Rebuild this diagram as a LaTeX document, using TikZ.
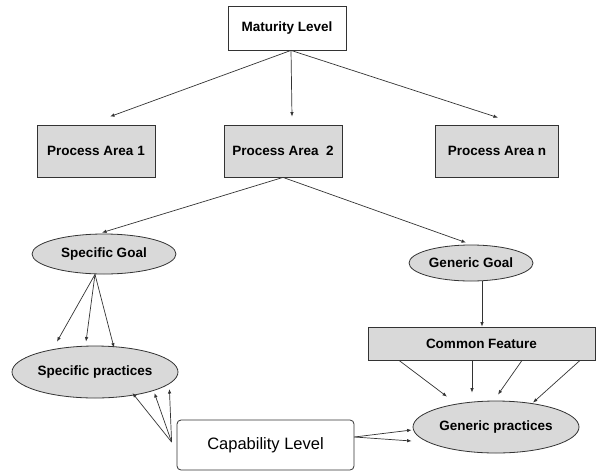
\documentclass[tikz,border=0pt]{standalone}
\usepackage{fontspec}
\setmainfont{Liberation Sans}
\usetikzlibrary{arrows.meta,shapes.geometric,calc}
\definecolor{boxgray}{HTML}{D9D9D9}
\definecolor{linegray}{HTML}{333333}
\tikzset{
  lbl/.style={font=\fontsize{13.5}{15}\selectfont\bfseries, text=black},
  plainbox/.style={draw=linegray, line width=0.8pt, fill=white, inner sep=0pt},
  graybox/.style={draw=linegray, line width=0.8pt, fill=boxgray, inner sep=0pt},
  grayell/.style={ellipse, draw=linegray, line width=0.8pt, fill=boxgray, inner sep=0pt},
  arr/.style={draw=linegray, line width=0.7pt, -{Latex[length=4.5pt,width=3.5pt]}},
}
\begin{document}
\begin{tikzpicture}[x=1pt,y=-1pt]
\useasboundingbox (0,0) rectangle (601,471);
\node[plainbox, lbl, minimum width=118pt, minimum height=44pt] (ML) at (287,28) {Maturity Level};
\node[graybox, lbl, minimum width=118pt, minimum height=52pt] (PA1) at (96,151) {Process Area 1};
\node[graybox, lbl, minimum width=118pt, minimum height=52pt] (PA2) at (283,151) {Process Area~~2};
\node[graybox, lbl, minimum width=123pt, minimum height=52pt] (PAn) at (497,151) {Process Area n};
\node[grayell, lbl, minimum width=144pt, minimum height=40pt] (SG) at (104,254) {Specific Goal};
\node[grayell, lbl, minimum width=166pt, minimum height=52pt] (SP) at (95,372) {Specific practices};
\node[grayell, lbl, minimum width=124pt, minimum height=36pt] (GG) at (471,263) {Generic Goal};
\node[graybox, lbl, minimum width=227pt, minimum height=33pt] (CF) at (481.5,343.5) {Common Feature};
\node[grayell, lbl, minimum width=166pt, minimum height=52pt] (GP) at (496,427) {Generic practices};
\node[plainbox, rounded corners=4pt, font=\fontsize{16.5}{18}\selectfont, minimum width=177pt, minimum height=50pt] (CL) at (265.5,445) {Capability Level};

% Maturity level to process areas
\draw[arr] ([xshift=4pt]ML.south) -- ([xshift=14pt,yshift=8pt]PA1.north);
\draw[arr] ([xshift=4pt]ML.south) -- ([xshift=9pt,yshift=8pt]PA2.north);
\draw[arr] ([xshift=4pt]ML.south) -- ([xshift=1pt,yshift=7pt]PAn.north);
% Process area 2 to goals
\draw[arr] (PA2.south) -- ([xshift=-2pt,yshift=1pt]SG.north);
\draw[arr] (PA2.south) -- ([xshift=-5pt,yshift=2pt]GG.north);
% Specific goal to specific practices
\draw[arr] ([xshift=-9pt]SG.south) -- ([xshift=-38pt,yshift=4pt]SP.north);
\draw[arr] ([xshift=-9pt]SG.south) -- ([xshift=-9pt,yshift=4pt]SP.north);
\draw[arr] ([xshift=-9pt]SG.south) -- ([xshift=19pt,yshift=-2pt]SP.north);
% Generic goal to common feature
\draw[arr] ([xshift=11pt]GG.south) -- ([xshift=0.5pt]CF.north);
% Common feature to generic practices
\draw[arr] ([xshift=-82.5pt]CF.south) -- ([xshift=-49pt,yshift=4pt]GP.north);
\draw[arr] ([xshift=-9.5pt]CF.south) -- ([xshift=-24pt,yshift=8pt]GP.north);
\draw[arr] ([xshift=40.5pt]CF.south) -- ([xshift=2pt,yshift=6pt]GP.north);
\draw[arr] ([xshift=98.5pt]CF.south) -- ([xshift=37pt,yshift=-2pt]GP.north);
% Capability level to practices
\draw[arr] ([xshift=-5pt,yshift=3pt]CL.west) -- ([xshift=-46pt,yshift=-21pt]SP.east);
\draw[arr] ([xshift=-5pt,yshift=3pt]CL.west) -- ([xshift=-24pt,yshift=-21pt]SP.east);
\draw[arr] ([xshift=-5pt,yshift=3pt]CL.west) -- ([xshift=-9pt,yshift=-17pt]SP.east);
\draw[arr] ([yshift=8pt]CL.east) -- ([xshift=-1pt,yshift=-3pt]GP.west);
\draw[arr] ([yshift=8pt]CL.east) -- ([xshift=-1pt,yshift=-14pt]GP.west);
\end{tikzpicture}
\end{document}
